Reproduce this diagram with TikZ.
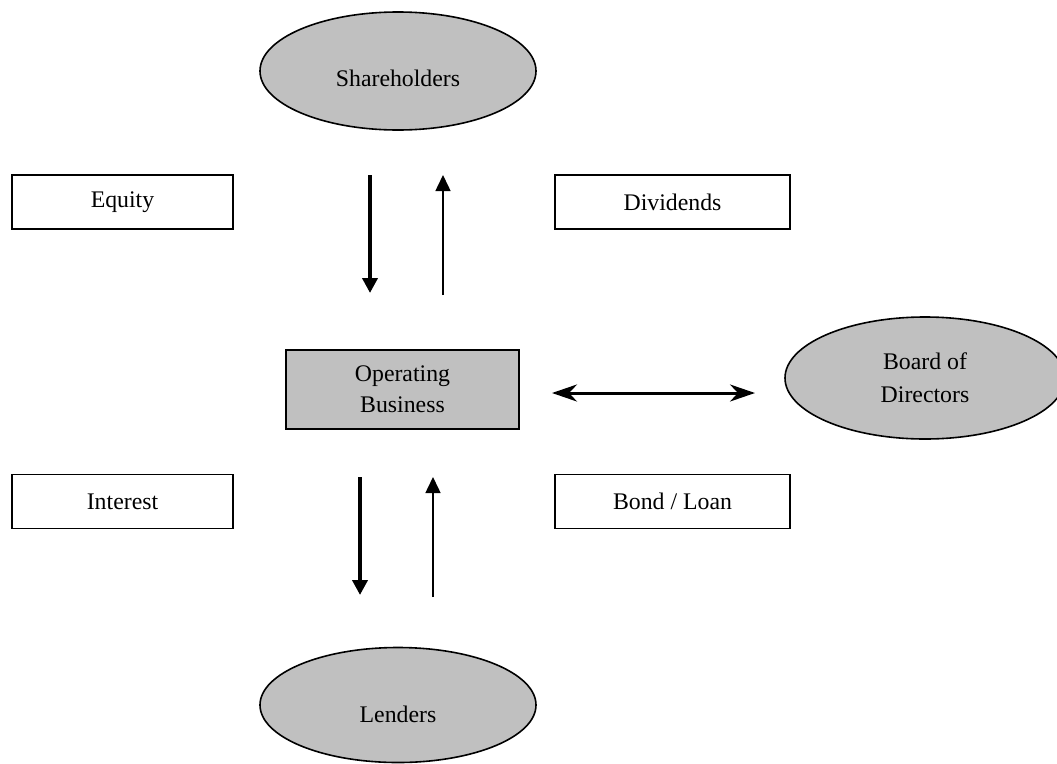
\documentclass[tikz,border=0pt]{standalone}
\usepackage{fontspec}
\setmainfont{Liberation Serif}
\usetikzlibrary{arrows.meta,shapes.geometric}
\definecolor{shade}{HTML}{C0C0C0}
\tikzstyle{party}=[ellipse,draw,line width=1.6pt,fill=shade,inner sep=0pt,font=\fontsize{23.8}{33}\selectfont,align=center]
\tikzstyle{flow}=[rectangle,draw,line width=1.4pt,fill=white,minimum height=54pt,inner sep=0pt,font=\fontsize{23.8}{31}\selectfont,align=center]
\tikzstyle{hub}=[flow,fill=shade,minimum width=233pt,minimum height=79pt]
\tikzstyle{cashin}=[line width=4pt,-{Triangle[length=15pt,width=15pt]}]
\tikzstyle{cashout}=[line width=1.5pt,-{Triangle[length=16pt,width=15pt]}]
\tikzstyle{link}=[line width=3pt,{Stealth[length=25pt,width=17pt,inset=8pt]}-{Stealth[length=25pt,width=17pt,inset=8pt]}]

\begin{document}
\begin{tikzpicture}[x=1pt,y=-1pt]
                    \useasboundingbox (0,0) rectangle (1057,763);

                    \node[party,minimum width=276pt,minimum height=118pt,text height=30pt,text depth=0pt] (share) at (398,71) {Shareholders};
                    \node[party,minimum width=280pt,minimum height=122pt] (board) at (925,378) {Board of\\Directors};
                    \node[party,minimum width=276pt,minimum height=115pt,text height=34pt,text depth=0pt] (lenders) at (398,705) {Lenders};

                    \node[flow,minimum width=221pt] (equity) at (122.5,202) {Equity};
                    \node[flow,minimum width=235pt] (divid) at (672.5,202) {Dividends};
                    \node[hub] (opbiz) at (402.5,389.5) {Operating\\Business};
                    \node[flow,minimum width=221pt] (interest) at (122.5,501.5) {Interest};
                    \node[flow,minimum width=235pt] (bond) at (672.5,501.5) {Bond / Loan};

                    % arrow ends
                    \coordinate (eqtop) at (370,175);
                    \coordinate (eqbot) at (370,293);
                    \coordinate (dvbot) at (443,295);
                    \coordinate (dvtop) at (443,175);
                    \coordinate (intop) at (360,477);
                    \coordinate (inbot) at (360,595);
                    \coordinate (lnbot) at (433,597);
                    \coordinate (lntop) at (433,477);
                    \coordinate (bdleft) at (552,393);
                    \coordinate (bdright) at (755,393);

                    \draw[cashin] (eqtop) -- (eqbot);
                    \draw[cashout] (dvbot) -- (dvtop);
                    \draw[cashin] (intop) -- (inbot);
                    \draw[cashout] (lnbot) -- (lntop);
                    \draw[link] (bdleft) -- (bdright);
                \end{tikzpicture}
\end{document}
